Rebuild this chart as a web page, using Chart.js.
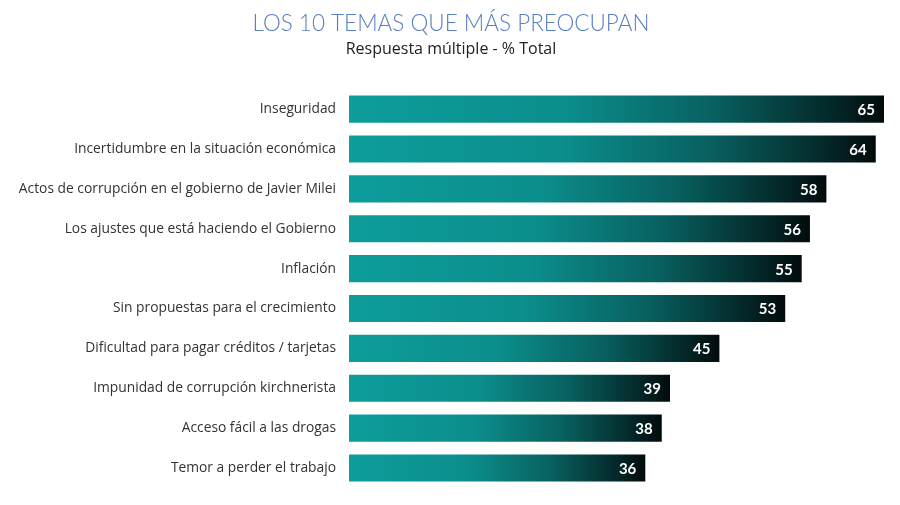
<!DOCTYPE html>
<html>
<head>
<meta charset="utf-8">
<script src="https://cdn.jsdelivr.net/npm/chart.js@4"></script>
<style>
  html, body { margin: 0; padding: 0; background: #fff; }
  .wrap { width: 900px; height: 505px; }
</style>
</head>
<body>
<div class="wrap"><canvas id="temasChart" width="900" height="505"></canvas></div>
<script>
const categories = [
  'Inseguridad',
  'Incertidumbre en la situación económica',
  'Actos de corrupción en el gobierno de Javier Milei',
  'Los ajustes que está haciendo el Gobierno',
  'Inflación',
  'Sin propuestas para el crecimiento',
  'Dificultad para pagar créditos / tarjetas',
  'Impunidad de corrupción kirchnerista',
  'Acceso fácil a las drogas',
  'Temor a perder el trabajo'
];
const values = [65, 64, 58, 56, 55, 53, 45, 39, 38, 36];

// teal -> black gradient, stretched over each bar
function barGradient(ctx) {
  const chart = ctx.chart;
  const area = chart.chartArea;
  if (!area) return '#0c9c9a';
  const x = chart.scales.x;
  const x0 = x.getPixelForValue(0);
  const x1 = x.getPixelForValue(values[ctx.dataIndex]);
  const g = chart.ctx.createLinearGradient(x0, 0, x1, 0);
  g.addColorStop(0, '#0d9d9b');
  g.addColorStop(0.4, '#0b8e8c');
  g.addColorStop(0.68, '#086160');
  g.addColorStop(0.9, '#04292a');
  g.addColorStop(1, '#030b0c');
  return g;
}

const valueLabels = {
  id: 'valueLabels',
  afterDatasetsDraw(chart) {
    const ctx = chart.ctx;
    const meta = chart.getDatasetMeta(0);
    ctx.save();
    ctx.fillStyle = '#ffffff';
    ctx.font = 'bold 15px Lato';
    ctx.textAlign = 'right';
    ctx.textBaseline = 'middle';
    meta.data.forEach((bar, i) => {
      ctx.fillText(values[i], bar.x - 9, bar.y + 1);
    });
    ctx.restore();
  }
};

new Chart(document.getElementById('temasChart'), {
  type: 'bar',
  data: {
    labels: categories,
    datasets: [{
      data: values,
      backgroundColor: barGradient,
      borderWidth: 0,
      barPercentage: 0.68,
      categoryPercentage: 1
    }]
  },
  options: {
    indexAxis: 'y',
    responsive: false,
    animation: false,
    layout: { padding: { left: 18, right: 16, top: 0, bottom: 17 } },
    plugins: {
      legend: { display: false },
      tooltip: { enabled: false },
      title: {
        display: true,
        text: 'LOS 10 TEMAS QUE MÁS PREOCUPAN',
        color: '#5a7fc2',
        font: { family: 'Lato', size: 22.5, weight: '300' },
        padding: { top: 10, bottom: 3 }
      },
      subtitle: {
        display: true,
        text: 'Respuesta múltiple - % Total',
        color: '#222',
        font: { family: 'Open Sans', size: 16, weight: 'normal' },
        padding: { top: 0, bottom: 30 }
      }
    },
    scales: {
      x: { display: false, min: 0, max: 65 },
      y: {
        afterFit(scale) { scale.width = 331; },
        grid: { display: false },
        border: { display: false },
        ticks: {
          color: '#333',
          padding: 5,
          font: { family: 'Open Sans', size: 13.8 }
        }
      }
    }
  },
  plugins: [valueLabels]
});
</script>
</body>
</html>
